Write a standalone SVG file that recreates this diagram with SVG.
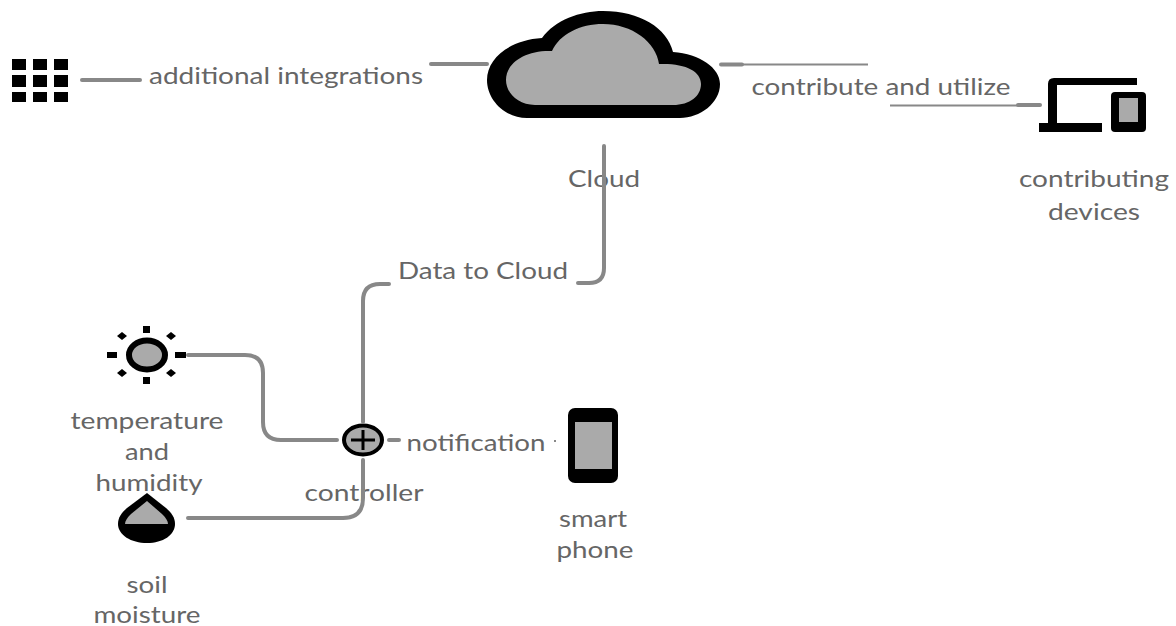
<svg xmlns="http://www.w3.org/2000/svg" width="1176" height="626" viewBox="0 0 1176 626">
<style>
text{font-family:Lato,"Liberation Sans",sans-serif;font-size:24px;fill:#666;text-anchor:middle}
.k{fill:#000}
.g{fill:#aaa}
.c{fill:none;stroke:#888;stroke-width:4;stroke-linecap:round}
.t{fill:none;stroke:#888;stroke-width:2}
</style>
<rect width="1176" height="626" fill="#fff"/>
<g id="integrations" class="k">
<rect x="12" y="59" width="14" height="11"/><rect x="33" y="59" width="14" height="11"/><rect x="54" y="59" width="14" height="11"/>
<rect x="12" y="75" width="14" height="12"/><rect x="33" y="75" width="14" height="12"/><rect x="54" y="75" width="14" height="12"/>
<rect x="12" y="92" width="14" height="10"/><rect x="33" y="92" width="14" height="10"/><rect x="54" y="92" width="14" height="10"/>
</g>
<g id="cloud">
<path class="k" d="M542 38C555 20 580 11 603 11C640 11 667 28 673 52C700 54 720 68 720 84C720 103 700 118 680 118L527 118C505 118 487 100 487 80C487 58 510 40 542 38Z"/>
<path class="g" d="M552 51C560 34 580 24 603 24C632 24 656 42 659 64C685 63 701 71 701 84C701 96 690 105 673 105L535 105C518 105 506 93 506 80C506 63 525 50 552 51Z"/>
<text x="604" y="187" textLength="72" lengthAdjust="spacingAndGlyphs">Cloud</text>
</g>
<g id="devices">
<path class="k" d="M1137 78H1054Q1048 78 1048 84V123H1039V132H1102V123H1057V85H1137Z"/>
<rect class="k" x="1111" y="92" width="35" height="40" rx="4"/>
<rect class="g" x="1119" y="98" width="19" height="24"/>
<text x="1094" y="187" textLength="150" lengthAdjust="spacingAndGlyphs">contributing</text>
<text x="1094" y="220" textLength="92" lengthAdjust="spacingAndGlyphs">devices</text>
</g>
<g id="sensor">
<ellipse cx="147" cy="355" rx="18" ry="14.500" fill="#aaa" stroke="#000" stroke-width="6"/>
<g class="k">
<rect x="143" y="326" width="7" height="7"/><rect x="143" y="377" width="7" height="7"/>
<rect x="107" y="352" width="10" height="6"/><rect x="175" y="352" width="11" height="6"/>
<path d="M117 336L122 332L127 336L122 340ZM166 336L171 332L176 336L171 340ZM117 373L122 369L127 373L122 377ZM166 373L171 369L176 373L171 377Z"/>
</g>
<text x="147" y="429" textLength="153" lengthAdjust="spacingAndGlyphs">temperature</text>
<text x="147" y="460" textLength="44" lengthAdjust="spacingAndGlyphs">and</text>
<text x="149" y="491" textLength="107" lengthAdjust="spacingAndGlyphs">humidity</text>
</g>
<g id="soil">
<path class="k" d="M147 493L127 508C121 513 118 518 118 524C118 535 131 543 147 543C163 543 175 535 175 524C175 518 172 513 166 508Z"/>
<path class="g" d="M147 501L131 514C127 518 125 521 125 524H168C168 521 166 518 162 514Z"/>
<text x="147" y="593" textLength="41" lengthAdjust="spacingAndGlyphs">soil</text>
<text x="147" y="623" textLength="107" lengthAdjust="spacingAndGlyphs">moisture</text>
</g>
<g id="controller">
<ellipse cx="363" cy="440" rx="19" ry="14.500" fill="#aaa" stroke="#000" stroke-width="4"/>
<path d="M351 440H375M363 430V450" fill="none" stroke="#000" stroke-width="3"/>
<text x="364" y="501" textLength="119" lengthAdjust="spacingAndGlyphs">controller</text>
</g>
<g id="phone">
<rect class="k" x="568" y="408" width="50" height="75" rx="7"/>
<rect class="g" x="575" y="422" width="37" height="47"/>
<text x="593" y="527" textLength="68" lengthAdjust="spacingAndGlyphs">smart</text>
<text x="595" y="558" textLength="77" lengthAdjust="spacingAndGlyphs">phone</text>
</g>
<g id="labels">
<text x="286" y="84" textLength="274" lengthAdjust="spacingAndGlyphs">additional integrations</text>
<text x="881" y="95" textLength="259" lengthAdjust="spacingAndGlyphs">contribute and utilize</text>
<text x="483" y="279" textLength="170" lengthAdjust="spacingAndGlyphs">Data to Cloud</text>
<text x="476" y="451" textLength="139" lengthAdjust="spacingAndGlyphs">notification</text>
</g>
<g id="connectors">
<path class="c" d="M82 80H140"/>
<path class="c" d="M431 64H487"/>
<path class="c" d="M721 64.500H742"/>
<path class="t" d="M742 64.500H868"/>
<path class="t" d="M890 105.500H1018"/>
<path class="c" d="M1018 105H1040"/>
<path class="c" d="M604 146V268Q604 283 589 283H578"/>
<path class="c" d="M389 284H380Q363 284 363 301V422"/>
<path class="c" d="M188 355H245Q263 355 263 373V422Q263 440 281 440H337"/>
<path class="c" d="M188 518H343Q363 518 363 498V460"/>
<path class="c" d="M389 440H399"/>
<path class="t" d="M554 441H556"/>
</g>
</svg>
